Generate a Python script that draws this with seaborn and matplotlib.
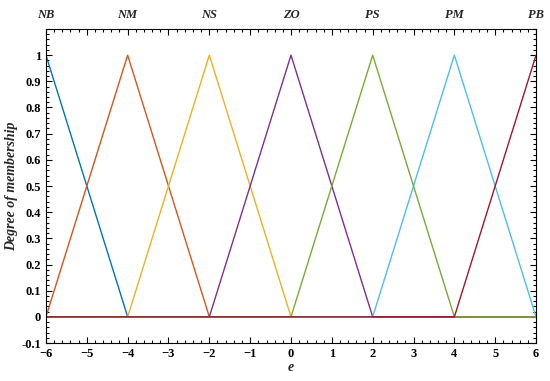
import matplotlib
matplotlib.use('Agg')
import matplotlib.pyplot as plt
import seaborn as sns
import pandas as pd
from matplotlib.ticker import MultipleLocator, AutoMinorLocator

# membership function vertices (triangles over the universe [-6, 6])
labels = ['NB', 'NM', 'NS', 'ZO', 'PS', 'PM', 'PB']
x_pts = {
    'NB': [-6, -4, 6],
    'NM': [-6, -4, -2, 6],
    'NS': [-6, -4, -2, 0, 6],
    'ZO': [-6, -2, 0, 2, 6],
    'PS': [-6, 0, 2, 4, 6],
    'PM': [-6, 2, 4, 6],
    'PB': [-6, 4, 6],
}
y_pts = {
    'NB': [1, 0, 0],
    'NM': [0, 1, 0, 0],
    'NS': [0, 0, 1, 0, 0],
    'ZO': [0, 0, 1, 0, 0],
    'PS': [0, 0, 1, 0, 0],
    'PM': [0, 0, 1, 0],
    'PB': [0, 0, 1],
}
peaks = [-6, -4, -2, 0, 2, 4, 6]

colors = {
    'NB': '#0072BD', 'NM': '#D95319', 'NS': '#EDB120', 'ZO': '#7E2F8E',
    'PS': '#77AC30', 'PM': '#4DBEEE', 'PB': '#A2142F',
}
draw_order = ['NB', 'NM', 'NS', 'ZO', 'PM', 'PS', 'PB']

rows = []
for k in labels:
    for xv, yv in zip(x_pts[k], y_pts[k]):
        rows.append({'mf': k, 'e': xv, 'mu': yv})
df = pd.DataFrame(rows)

sns.set_style('ticks')
plt.rcParams['font.family'] = ['Liberation Serif', 'DejaVu Serif']

fig = plt.figure(figsize=(5.5, 3.81), dpi=100)
ax = fig.add_axes([0.0836, 0.0997, 0.891, 0.8242])

for k in draw_order:
    sns.lineplot(data=df[df['mf'] == k], x='e', y='mu', color=colors[k],
                 linewidth=1.0, ax=ax, sort=False, estimator=None)

ax.set_xlim(-6, 6)
ax.set_ylim(-0.1, 1.1)
ax.xaxis.set_major_locator(MultipleLocator(1))
ax.xaxis.set_minor_locator(AutoMinorLocator(5))
ax.set_yticks([i / 10 for i in range(-1, 11)])
ax.set_yticklabels(['-0.1', '0'] + [f'{i/10:g}' for i in range(1, 10)] + ['1'])
ax.yaxis.set_minor_locator(MultipleLocator(0.02))
ax.tick_params(which='both', direction='in', top=True, right=True,
               labelsize=9, width=0.8, colors='black')
ax.tick_params(which='major', length=4)
ax.tick_params(which='minor', length=2)
for lab in ax.get_xticklabels() + ax.get_yticklabels():
    lab.set_fontweight('bold')
for sp in ax.spines.values():
    sp.set_linewidth(0.8)
    sp.set_color('black')

ax.set_xlabel('e', fontsize=10, fontweight='bold', style='italic', labelpad=1)
ax.set_ylabel('Degree of membership', fontsize=10, fontweight='bold',
              style='italic', labelpad=2)

for k, p in zip(labels, peaks):
    ax.text(p, 1.13, k, ha='center', va='bottom', fontsize=9,
            fontweight='bold', style='italic', transform=ax.transData,
            clip_on=False)

fig.savefig('out.png', dpi=100)
